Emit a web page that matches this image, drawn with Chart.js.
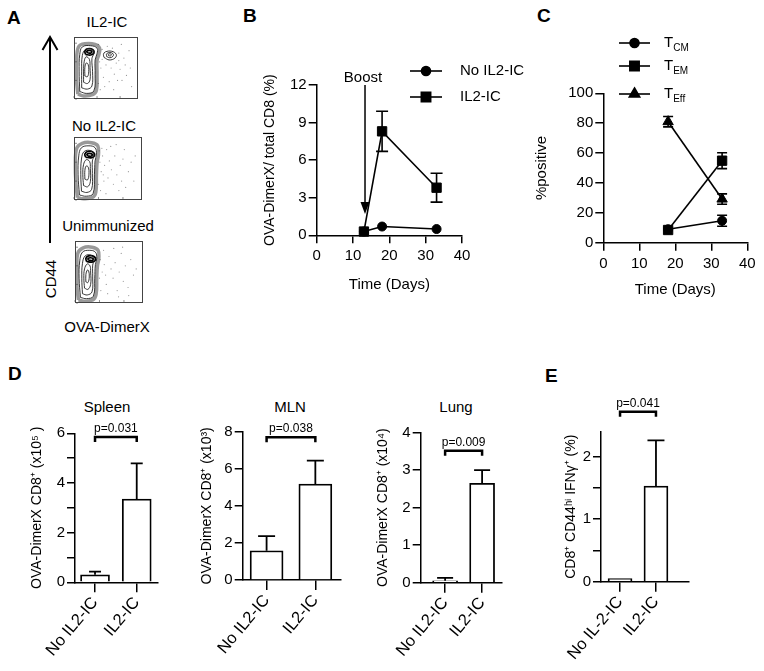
<!DOCTYPE html>
<html>
<head>
<meta charset="utf-8">
<script src="https://cdn.jsdelivr.net/npm/chart.js@4.4.1/dist/chart.umd.min.js"></script>
<style>
html, body { margin: 0; padding: 0; background: #fff; }
#fig { position: relative; width: 764px; height: 671px; overflow: hidden; font-family: "Liberation Sans", Arial, sans-serif; color: #000; }
#fig canvas { position: absolute; }
#fig svg { position: absolute; left: 0; top: 0; }
.txt { position: absolute; white-space: nowrap; line-height: 1; font-size: 15px; transform: translate(-50%, -50%); }
.rot { transform: translate(-50%, -50%) rotate(-90deg); }
.lbl { position: absolute; font-weight: bold; font-size: 19px; line-height: 19px; }
</style>
</head>
<body>
<div id="fig">
  <div class="lbl" style="left:7px;top:8px">A</div>
  <div class="lbl" style="left:243px;top:6px">B</div>
  <div class="lbl" style="left:537px;top:6px">C</div>
  <div class="lbl" style="left:8px;top:364px">D</div>
  <div class="lbl" style="left:545px;top:366px">E</div>

  <svg width="764" height="671">
    <line x1="50" y1="37" x2="50" y2="243" stroke="#000" stroke-width="2"/>
    <polyline points="42.5,50 50,37 57.5,50" fill="none" stroke="#000" stroke-width="2"/>
  </svg>
  <div class="txt" style="left:107px;top:21px">IL2-IC</div>
  <div class="txt" style="left:104px;top:125px">No IL2-IC</div>
  <div class="txt" style="left:108px;top:225px">Unimmunized</div>
  <div class="txt rot" style="left:50px;top:279px">CD44</div>
  <div class="txt" style="left:107px;top:326px">OVA-DimerX</div>

  <div class="txt" style="left:107px;top:406px">Spleen</div>
  <div class="txt" style="left:290px;top:406px">MLN</div>
  <div class="txt" style="left:456px;top:406px">Lung</div>

  <canvas id="flow1" width="72" height="70" style="left:70px;top:33px"></canvas>
  <canvas id="flow2" width="76" height="71" style="left:70px;top:133px"></canvas>
  <canvas id="flow3" width="76" height="70" style="left:71px;top:237px"></canvas>
  <canvas id="chartB" width="290" height="250" style="left:240px;top:55px"></canvas>
  <canvas id="chartC" width="244" height="290" style="left:520px;top:20px"></canvas>
  <canvas id="spleen" width="150" height="281" style="left:20px;top:390px"></canvas>
  <canvas id="mln" width="170" height="281" style="left:180px;top:390px"></canvas>
  <canvas id="lung" width="150" height="281" style="left:360px;top:390px"></canvas>
  <canvas id="ifng" width="224" height="281" style="left:540px;top:390px"></canvas>
</div>

<script>
// ---------------------------------------------------------------------------
// Data
// ---------------------------------------------------------------------------

// Panel A: flow plots, contour outlines (x, y in % of plot)
const il2Halo = [[6,8],[15,5],[29,7],[35,14],[36,40],[36,62],[39,72],[40,82],[33,88],[17,89],[7,84],[4,60],[4,30],[6,8]];
const il2Contours = [
    [[9,12],[20,9],[31,13],[33,40],[33,63],[36,73],[36,82],[26,86],[13,84],[9,72],[8,45],[9,12]],
    [[12,18],[21,16],[28,21],[29,44],[28,65],[31,74],[28,80],[18,80],[13,70],[12,45],[12,18]],
    [[15,27],[21,25],[25,31],[25,51],[24,64],[19,68],[16,61],[15,45],[15,27]],
    [[17,37],[21,36],[23,44],[22,56],[19,58],[17,51],[17,37]],
    [[47,67],[55,63],[64,66],[66,72],[59,77],[49,76],[46,72],[47,67]],
    [[51,68.5],[56,66.5],[61,69],[61,73],[56,75],[51,73],[51,68.5]],
    [[54,70],[57,69.5],[58.5,71.5],[56,73],[53.5,72],[54,70]]
];
const il2Spots = [
    [[18,72],[26,71],[31,74],[29,80],[21,81],[17,77],[18,72]],
    [[21,74.5],[26,74],[28,76.5],[24,78.5],[20,77],[21,74.5]]
];
const il2Dots = [[40,60],[42,50],[44,80],[46,35],[50,55],[52,85],[58,50],[60,82],[63,40],[66,58],[70,74],[72,48],[75,30],[78,66],[82,38],[86,78],[90,20],[38,25],[41,15],[48,20],[55,28],[62,15],[68,30],[74,88],[80,55],[88,50],[44,64],[70,62],[38,88]];

const noHalo = [[5,4],[14,2],[27,4],[32,12],[33,40],[34,60],[36,72],[35,86],[26,91],[12,90],[4,82],[2,55],[3,25],[5,4]];
const noContours = [
    [[8,8],[18,6],[28,10],[30,40],[31,62],[33,73],[31,83],[22,86],[11,83],[7,70],[6,40],[8,8]],
    [[11,14],[19,12],[26,17],[27,42],[27,62],[29,70],[25,78],[15,77],[11,65],[10,40],[11,14]],
    [[14,23],[20,21],[24,29],[24,50],[23,61],[18,64],[14,56],[13,40],[14,23]],
    [[16,33],[20,32],[22,41],[21,52],[18,54],[16,47],[16,33]]
];
const noSpots = [
    [[17,68],[25,67],[30,70],[28,76],[20,77],[16,73],[17,68]],
    [[20,70],[25,69.5],[27,72],[23,74],[19,72.5],[20,70]]
];
const noDots = [[38,60],[40,45],[42,70],[45,55],[48,80],[50,35],[52,62],[55,48],[58,25],[60,70],[63,40],[66,15],[68,55],[70,30],[72,65],[76,20],[80,45],[84,60],[88,30],[36,25],[39,15],[44,30],[47,10],[54,85],[62,88],[74,80],[41,82],[90,70],[37,78],[43,40]];

const unHalo = [[5,5],[13,3],[26,5],[31,14],[32,40],[33,60],[35,72],[34,85],[25,90],[12,89],[4,80],[3,55],[3,25],[5,5]];
const unContours = [
    [[8,9],[17,7],[27,11],[29,40],[30,62],[32,72],[30,82],[21,85],[11,82],[7,68],[6,40],[8,9]],
    [[11,15],[18,13],[25,18],[26,42],[26,61],[28,69],[24,77],[15,76],[11,64],[10,40],[11,15]],
    [[14,24],[19,22],[23,30],[23,50],[22,60],[18,63],[14,55],[13,40],[14,24]],
    [[16,34],[19,33],[21,42],[20,52],[18,53],[16,46],[16,34]]
];
const unSpots = [
    [[17,67],[25,66],[30,69],[28,75],[20,76],[16,72],[17,67]],
    [[20,69],[25,68.5],[27,71],[23,73],[19,71.5],[20,69]]
];
const unDots = [[37,70],[40,50],[43,62],[46,30],[50,75],[53,55],[56,40],[59,65],[62,20],[65,50],[68,80],[71,35],[74,60],[78,25],[82,70],[86,45],[90,55],[38,20],[42,85],[48,15],[57,88],[64,10],[70,90],[79,12],[36,40],[45,45]];

// Panel B: OVA-DimerX+ of total CD8 (%)
const bDays = [13, 18, 33];
const bNoIl2 = [0.3, 0.7, 0.5];
const bNoIl2Err = [0, 0, 0];
const bIl2 = [0.3, 8.3, 3.8];
const bIl2Err = [0, 1.6, 1.15];
const boostDay = 13.3;
const boostTip = 1.7;

// Panel C: memory subsets (% positive)
const cDays = [18, 33];
const cTcm = [9, 14.7];
const cTcmErr = [0, 3.7];
const cTem = [8.5, 54.9];
const cTemErr = [0, 5.3];
const cTeff = [81, 29.2];
const cTeffErr = [3.5, 3.5];
const cNames = [['T', 'CM'], ['T', 'EM'], ['T', 'Eff']];

// Panels D and E: bar means and error
const groupsD = ['No IL2-IC', 'IL2-IC'];
const groupsE = ['No IL-2-IC', 'IL2-IC'];
const spleenMean = [0.3, 3.35];
const spleenErr = [0.13, 1.44];
const mlnMean = [1.58, 5.18];
const mlnErr = [0.79, 1.26];
const lungMean = [0.05, 2.65];
const lungErr = [0.08, 0.35];
const ifngMean = [0.05, 1.53];
const ifngErr = [0, 0.73];
const pTexts = ['p=0.031', 'p=0.038', 'p=0.009', 'p=0.041'];
const pBracketY = [5.85, 7.7, 3.52, 2.72];

// ---------------------------------------------------------------------------
// Setup
// ---------------------------------------------------------------------------

const FAM = '"Liberation Sans", Arial, sans-serif';
Chart.defaults.font.family = FAM;
Chart.defaults.color = '#000';

const toPts = arr => arr.map(p => ({ x: p[0], y: p[1] }));

function baseOptions(padding) {
    return {
        responsive: false,
        animation: false,
        devicePixelRatio: 1,
        layout: { padding },
        plugins: { legend: { display: false }, tooltip: { enabled: false } }
    };
}

function yAxis(min, max, step, title, width, labelFn, titleSize) {
    return {
        type: 'linear',
        min: min,
        max: max,
        ticks: { stepSize: step, font: { size: 15 }, padding: 2, autoSkip: false, includeBounds: false,
                 callback: labelFn || (v => v) },
        grid: { drawOnChartArea: false, color: '#000', lineWidth: 1.5, tickLength: 8 },
        border: { color: '#000', width: 1.5 },
        title: { display: true, text: title, font: { size: titleSize || 14 }, padding: 0 },
        afterFit: s => { s.width = width; }
    };
}

function xTime(height) {
    return {
        type: 'linear',
        min: 0,
        max: 40,
        ticks: { stepSize: 10, font: { size: 15 }, padding: 4, maxRotation: 0, autoSkip: false },
        grid: { drawOnChartArea: false, color: '#000', lineWidth: 1.5, tickLength: 8 },
        border: { color: '#000', width: 1.5 },
        title: { display: true, text: 'Time (Days)', font: { size: 15 }, padding: 0 },
        afterFit: s => { s.height = height; }
    };
}

// error bars from each dataset's "errors" array
const errorBars = {
    id: 'errorBars',
    afterDatasetsDraw(chart, args, opts) {
        const ctx = chart.ctx;
        const ys = chart.scales.y;
        const half = (opts.cap || 12) / 2;
        ctx.save();
        ctx.strokeStyle = '#000';
        ctx.lineWidth = opts.width || 1.6;
        chart.data.datasets.forEach((ds, di) => {
            if (!ds.errors) return;
            const meta = chart.getDatasetMeta(di);
            ds.data.forEach((pt, i) => {
                const e = ds.errors[i];
                if (!e) return;
                const x = meta.data[i].x;
                const top = ys.getPixelForValue(pt.y + e);
                const bot = opts.upOnly ? meta.data[i].y : ys.getPixelForValue(pt.y - e);
                ctx.beginPath();
                ctx.moveTo(x, bot);
                ctx.lineTo(x, top);
                ctx.moveTo(x - half, top);
                ctx.lineTo(x + half, top);
                if (!opts.upOnly) {
                    ctx.moveTo(x - half, bot);
                    ctx.lineTo(x + half, bot);
                }
                ctx.stroke();
            });
        });
        ctx.restore();
    }
};

// significance bracket between the two bars
const sigBracket = {
    id: 'sigBracket',
    afterDraw(chart, args, o) {
        const ctx = chart.ctx;
        const x0 = chart.scales.x.getPixelForValue(0);
        const x1 = chart.scales.x.getPixelForValue(1) + (o.shift || 0);
        const y = chart.scales.y.getPixelForValue(o.y);
        ctx.save();
        ctx.strokeStyle = '#000';
        ctx.lineWidth = 2.5;
        ctx.beginPath();
        ctx.moveTo(x0, y + 5);
        ctx.lineTo(x0, y);
        ctx.lineTo(x1, y);
        ctx.lineTo(x1, y + 5);
        ctx.stroke();
        ctx.fillStyle = '#000';
        ctx.font = '12px ' + FAM;
        ctx.textAlign = 'center';
        ctx.textBaseline = 'alphabetic';
        ctx.fillText(o.text, (x0 + x1) / 2, y - 5);
        ctx.restore();
    }
};

// legend with a line through each marker
const lineLegend = {
    id: 'lineLegend',
    afterDraw(chart, args, o) {
        const ctx = chart.ctx;
        ctx.save();
        chart.data.datasets.forEach((ds, i) => {
            const y = o.ys[i];
            ctx.strokeStyle = '#000';
            ctx.fillStyle = '#000';
            ctx.lineWidth = 1.6;
            ctx.beginPath();
            ctx.moveTo(o.x0, y);
            ctx.lineTo(o.x1, y);
            ctx.stroke();
            Chart.helpers.drawPoint(ctx, { pointStyle: ds.pointStyle, radius: ds.pointRadius, rotation: 0, borderWidth: 1 },
                (o.x0 + o.x1) / 2, y);
            const parts = o.names ? o.names[i] : [ds.label];
            ctx.font = '15px ' + FAM;
            ctx.textAlign = 'left';
            ctx.textBaseline = 'middle';
            ctx.fillText(parts[0], o.tx, y);
            if (parts[1]) {
                const w = ctx.measureText(parts[0]).width;
                ctx.font = '10px ' + FAM;
                ctx.fillText(parts[1], o.tx + w, y + 5);
            }
        });
        ctx.restore();
    }
};

// boost arrow for panel B
const boostMark = {
    id: 'boostMark',
    afterDatasetsDraw(chart, args, o) {
        const ctx = chart.ctx;
        const area = chart.chartArea;
        const x = chart.scales.x.getPixelForValue(o.day);
        const tip = chart.scales.y.getPixelForValue(o.tip);
        ctx.save();
        ctx.strokeStyle = '#000';
        ctx.fillStyle = '#000';
        ctx.lineWidth = 1.5;
        ctx.beginPath();
        ctx.moveTo(x, area.top);
        ctx.lineTo(x, tip - 10);
        ctx.stroke();
        ctx.beginPath();
        ctx.moveTo(x - 4.5, tip - 12);
        ctx.lineTo(x + 4.5, tip - 12);
        ctx.lineTo(x, tip);
        ctx.closePath();
        ctx.fill();
        ctx.font = '15px ' + FAM;
        ctx.textAlign = 'center';
        ctx.textBaseline = 'middle';
        ctx.fillText(o.text, x - 2, area.top - 7);
        ctx.restore();
    }
};

// box round a flow plot, with small ticks along the bottom and left edges
const flowFrame = {
    id: 'flowFrame',
    afterDraw(chart) {
        const ctx = chart.ctx;
        const a = chart.chartArea;
        const xs = chart.scales.x;
        const ys = chart.scales.y;
        ctx.save();
        ctx.strokeStyle = '#444';
        ctx.lineWidth = 1;
        ctx.strokeRect(a.left + 0.5, a.top + 0.5, a.width - 1, a.height - 1);
        ctx.lineWidth = 0.6;
        ctx.beginPath();
        xs.ticks.forEach(t => {
            const x = xs.getPixelForValue(t.value);
            ctx.moveTo(x, a.bottom - 1);
            ctx.lineTo(x, a.bottom - 3);
        });
        ys.ticks.forEach(t => {
            const y = ys.getPixelForValue(t.value);
            ctx.moveTo(a.left + 1, y);
            ctx.lineTo(a.left + 3, y);
        });
        ctx.stroke();
        ctx.restore();
    }
};

// ---------------------------------------------------------------------------
// Panel A
// ---------------------------------------------------------------------------

function flowChart(id, halo, contours, spots, dots) {
    const line = { showLine: true, tension: 0.4, pointRadius: 0, fill: false, clip: false };
    const datasets = [
        Object.assign({ data: toPts(halo), borderColor: 'rgba(0,0,0,0.4)', borderWidth: 3.5 }, line)
    ];
    contours.forEach(c => datasets.push(Object.assign({ data: toPts(c), borderColor: '#222', borderWidth: 0.9 }, line)));
    spots.forEach(c => datasets.push(Object.assign({ data: toPts(c), borderColor: '#000', borderWidth: 1.7 }, line)));
    datasets.push({ data: toPts(dots), showLine: false, pointRadius: 0.6, backgroundColor: '#999', borderWidth: 0 });

    const opts = baseOptions(0);
    opts.scales = {
        x: { type: 'linear', min: 0, max: 100, display: false, ticks: { stepSize: 4 } },
        y: { type: 'linear', min: 0, max: 100, display: false, ticks: { stepSize: 5 } }
    };
    return new Chart(document.getElementById(id), {
        type: 'scatter',
        data: { datasets },
        options: opts,
        plugins: [flowFrame]
    });
}

flowChart('flow1', il2Halo, il2Contours, il2Spots, il2Dots);
flowChart('flow2', noHalo, noContours, noSpots, noDots);
flowChart('flow3', unHalo, unContours, unSpots, unDots);

// ---------------------------------------------------------------------------
// Panels B and C
// ---------------------------------------------------------------------------

function series(label, xs, ys, errs, style, radius, order) {
    return {
        label: label,
        data: xs.map((x, i) => ({ x: x, y: ys[i] })),
        errors: errs,
        showLine: true,
        borderColor: '#000',
        backgroundColor: '#000',
        borderWidth: 1.6,
        pointStyle: style,
        pointRadius: radius,
        pointBorderWidth: 1,
        clip: false,
        order: order
    };
}

const optsB = baseOptions({ left: 21.6, top: 30, right: 68, bottom: 11 });
optsB.scales = {
    x: xTime(58.7),
    y: yAxis(0, 12, 3, 'OVA-DimerX/ total CD8 (%)', 55.1, null, 14)
};
optsB.plugins.errorBars = { cap: 12 };
optsB.plugins.lineLegend = { x0: 170, x1: 202, tx: 220, ys: [16, 42] };
optsB.plugins.boostMark = { day: boostDay, tip: boostTip, text: 'Boost' };

new Chart(document.getElementById('chartB'), {
    type: 'scatter',
    data: {
        datasets: [
            series('No IL2-IC', bDays, bNoIl2, bNoIl2Err, 'circle', 4.5, 1),
            series('IL2-IC', bDays, bIl2, bIl2Err, 'rect', 6.6, 0)
        ]
    },
    options: optsB,
    plugins: [errorBars, lineLegend, boostMark]
});

const optsC = baseOptions({ left: 13.3, top: 73.3, right: 16.7, bottom: 11 });
optsC.scales = {
    x: xTime(56.3),
    y: yAxis(0, 100, 20, '%positive', 70, null, 15)
};
optsC.plugins.errorBars = { cap: 10 };
optsC.plugins.lineLegend = { x0: 99, x1: 130, tx: 144, ys: [23, 46, 74], names: cNames };

new Chart(document.getElementById('chartC'), {
    type: 'scatter',
    data: {
        datasets: [
            series('TCM', cDays, cTcm, cTcmErr, 'circle', 4.5, 2),
            series('TEM', cDays, cTem, cTemErr, 'rect', 6.6, 1),
            series('TEff', cDays, cTeff, cTeffErr, 'triangle', 6, 0)
        ]
    },
    options: optsC,
    plugins: [errorBars, lineLegend]
});

// ---------------------------------------------------------------------------
// Panels D and E
// ---------------------------------------------------------------------------

function barChart(id, means, errs, names, yCfg, lay, pText, pY) {
    const opts = baseOptions({ left: lay.pl, top: lay.pt, right: lay.pr, bottom: 0 });
    opts.scales = {
        x: {
            type: 'linear',
            min: lay.xMin,
            max: lay.xMax,
            offset: false,
            afterBuildTicks: s => { s.ticks = names.map((n, i) => ({ value: i })); },
            ticks: { callback: v => names[v], minRotation: 50, maxRotation: 50, autoSkip: false,
                     font: { size: 16.5 }, padding: 1 },
            grid: { drawOnChartArea: false, offset: false, color: '#000', lineWidth: 1.5, tickLength: 10 },
            border: { color: '#000', width: 1.5 },
            afterFit: s => { s.height = lay.xh; }
        },
        y: yCfg
    };
    opts.plugins.errorBars = { cap: lay.cap, upOnly: true, width: 1.8 };
    opts.plugins.sigBracket = { y: pY, text: pText };
    return new Chart(document.getElementById(id), {
        type: 'bar',
        data: {
            datasets: [{
                data: means.map((v, i) => ({ x: i, y: v })),
                errors: errs,
                backgroundColor: '#fff',
                borderColor: '#000',
                borderWidth: 1.8,
                borderSkipped: 'start',
                barThickness: lay.barW
            }]
        },
        options: opts,
        plugins: [errorBars, sigBracket]
    });
}

barChart('spleen', spleenMean, spleenErr, groupsD,
    yAxis(0, 6, 1, 'OVA-DimerX CD8\u207A (x10\u2075 )', 46.4, v => (v % 2 === 0 ? v : '')),
    { pl: 8.6, pt: 43.3, pr: 12, xh: 88.7, xMin: -0.48, xMax: 1.51, barW: 29, cap: 12 },
    pTexts[0], pBracketY[0]);

barChart('mln', mlnMean, mlnErr, groupsD,
    yAxis(0, 8, 2, 'OVA-DimerX CD8\u207A (x10\u00B3)', 44.4),
    { pl: 18.3, pt: 41.7, pr: 9.3, xh: 91, xMin: -0.49, xMax: 1.52, barW: 33, cap: 17 },
    pTexts[1], pBracketY[1]);

barChart('lung', lungMean, lungErr, groupsD,
    yAxis(0, 4, 1, 'OVA-DimerX CD8\u207A (x10\u2074)', 45.8),
    { pl: 14.9, pt: 42.7, pr: 8.3, xh: 88.3, xMin: -0.66, xMax: 1.53, barW: 25, cap: 16 },
    pTexts[2], pBracketY[2]);

barChart('ifng', ifngMean, ifngErr, groupsE,
    yAxis(0, 2.4, 0.5, 'CD8\u207A CD44\u02B0\u2071 IFN\u03B3\u207A (%)', 38.4, v => (Number.isInteger(v) ? v : '')),
    { pl: 22.6, pt: 41.7, pr: 75.7, xh: 89.3, xMin: -0.53, xMax: 1.9, barW: 24, cap: 17 },
    pTexts[3], pBracketY[3]);
</script>
</body>
</html>
